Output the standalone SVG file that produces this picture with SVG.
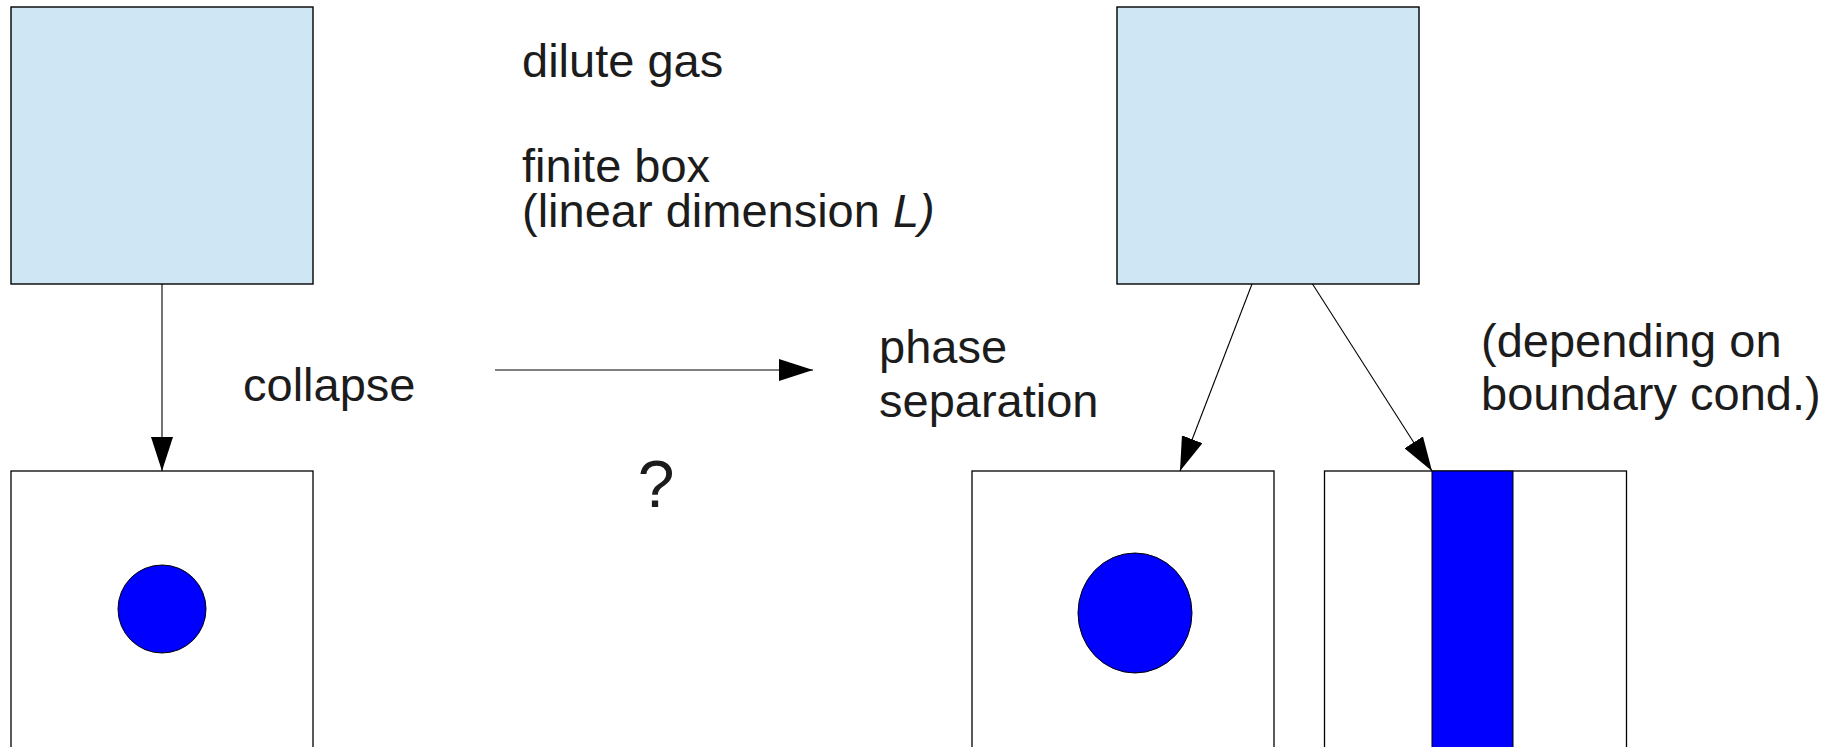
<svg xmlns="http://www.w3.org/2000/svg" width="1830" height="747" viewBox="0 0 1830 747">
<style>
.t{font-family:"Liberation Sans",Arial,sans-serif;font-size:47px;fill:#1c1c1c}
.gas{fill:#cfe6f4;stroke:#000;stroke-width:1.4}
.box{fill:#fff;stroke:#000;stroke-width:1.3}
.drop{fill:#0000ff;stroke:#000;stroke-width:1}
.c{stroke:#000;stroke-width:1.1;fill:none;marker-end:url(#ah)}
</style>
<defs>
<marker id="ah" markerUnits="userSpaceOnUse" markerWidth="34" markerHeight="22" refX="34" refY="11" orient="auto">
<path d="M0,0 L34,11 L0,22 z" fill="#000"/>
</marker>
</defs>
<rect width="1830" height="747" fill="#fff"/>
<g id="gas-left"><rect class="gas" x="11" y="7" width="302" height="277"/></g>
<g id="gas-right"><rect class="gas" x="1117" y="7" width="302" height="277"/></g>
<g id="collapsed"><rect class="box" x="11" y="471" width="302" height="300"/><circle class="drop" cx="162" cy="609" r="44"/></g>
<g id="droplet"><rect class="box" x="972" y="471" width="302" height="300"/><ellipse class="drop" cx="1135" cy="613" rx="57" ry="60"/></g>
<g id="slab"><rect class="box" x="1324.5" y="471" width="302" height="300"/><rect class="drop" x="1432" y="471" width="81" height="300"/></g>
<g id="connectors">
<line class="c" x1="162" y1="284" x2="162" y2="471"/>
<line class="c" x1="495" y1="370" x2="813" y2="370"/>
<line class="c" x1="1252" y1="284" x2="1180" y2="471"/>
<line class="c" x1="1312.5" y1="284" x2="1432" y2="471"/>
</g>
<g id="labels">
<text class="t" x="522" y="77">dilute gas</text>
<text class="t" x="522" y="182">finite box</text>
<text class="t" x="522" y="227">(linear dimension <tspan font-style="italic">L)</tspan></text>
<text class="t" x="243" y="401">collapse</text>
<text class="t" x="879" y="363">phase</text>
<text class="t" x="879" y="417">separation</text>
<text class="t" x="1481" y="357">(depending on</text>
<text class="t" x="1481" y="410">boundary cond.)</text>
<text class="t" x="656" y="507" text-anchor="middle" style="font-size:66px">?</text>
</g>
</svg>
